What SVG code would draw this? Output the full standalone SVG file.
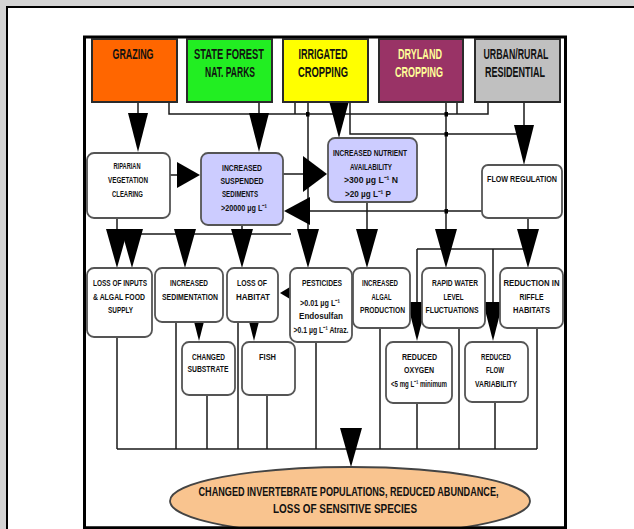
<svg xmlns="http://www.w3.org/2000/svg" width="634" height="529" viewBox="0 0 634 529">
<style>
.t{font-family:"Liberation Sans Narrow","Liberation Sans",Arial,sans-serif;font-weight:bold;fill:#111;text-anchor:middle}
.lu{font-size:14.5px}
.bx{font-size:9.5px}
.el{font-size:13px}
.top{stroke:#2a2a2a;stroke-width:2}
.box{fill:#fff;stroke:#555;stroke-width:1.8}
.lav{fill:#ccccff;stroke:#555;stroke-width:1.8}
.ln{fill:none;stroke:#1a1a1a;stroke-width:1.5}
.ah{fill:#000;stroke:none}
</style>
<rect x="0" y="0" width="634" height="529" fill="#d4d4d4"/>
<rect x="8" y="8" width="630" height="525" fill="#fff"/>
<path d="M7,529 V7 H634" fill="none" stroke="#000" stroke-width="2"/>
<rect x="84.5" y="37" width="481" height="491" fill="#fff" stroke="#000" stroke-width="3"/>

<g id="connectors">
  <path class="ln" d="M138,102 V113 M259,102 V113 M169,102 V114 H488 V102 M295,102 V114 M457,102 V114 M308,102 V229 M350,102 V134 H524 M524,102 V125 M446,102 V229"/>
  <path class="ln" d="M170,175 H178 M283,174 H304 M482,211 H309"/>
  <path class="ln" d="M117,218 V230 M242,225 V230 M132,234 H291 M367,202 V230 M528,218 V230 M417,249 H528 M417,249 V302 M493,249 V302"/>
  <path class="ln" d="M117,337 V449 M176,322 V449 M207,395 V449 M238,322 V449 M267,395 V449 M316,342 V449 M380,328 V449 M417,403 V449 M459,328 V449 M495,402 V449 M537,328 V449 M117,449 H537"/>
  <rect x="306" y="112" width="3.5" height="4.5" fill="#000"/>
  <rect x="444.5" y="112" width="3.5" height="4.5" fill="#000"/>
  <rect x="444.5" y="132" width="3.5" height="4.5" fill="#000"/>
  <rect x="444.5" y="209" width="3.5" height="4.5" fill="#000"/>
  <path class="ah" d="M128,113 L148,113 L138,152 Z"/>
  <path class="ah" d="M249,113 L269,113 L259,152 Z"/>
  <path class="ah" d="M329,101 L349,101 L339,138 Z"/>
  <path class="ah" d="M514,125 L534,125 L524,165 Z"/>
  <path class="ah" d="M177,162 L177,188 L200,175 Z"/>
  <path class="ah" d="M303,156 L303,192 L327,174 Z"/>
  <path class="ah" d="M310,197 L310,225 L284,211 Z"/>
  <path class="ah" d="M106,229 L128,229 L117,268 Z"/>
  <path class="ah" d="M121,229 L143,229 L132,268 Z"/>
  <path class="ah" d="M174,229 L196,229 L185,268 Z"/>
  <path class="ah" d="M231,229 L253,229 L242,268 Z"/>
  <path class="ah" d="M297,229 L319,229 L308,268 Z"/>
  <path class="ah" d="M356,229 L378,229 L367,268 Z"/>
  <path class="ah" d="M435,229 L457,229 L446,268 Z"/>
  <path class="ah" d="M517,229 L539,229 L528,268 Z"/>
  <path class="ah" d="M290,287 L290,299 L280,293 Z"/>
  <path class="ah" d="M189,302 L209,302 L199,341 Z"/>
  <path class="ah" d="M244,302 L264,302 L254,341 Z"/>
  <path class="ah" d="M407,302 L427,302 L417,341 Z"/>
  <path class="ah" d="M483,302 L503,302 L493,341 Z"/>
  <path class="ah" d="M340,428 L362,428 L351,467 Z"/>
</g>

<g id="grazing">
  <rect class="top" x="92" y="39" width="85" height="63" fill="#ff6600"/>
  <text class="t lu" x="133" y="59" textLength="41" lengthAdjust="spacingAndGlyphs">GRAZING</text>
</g>
<g id="state-forest">
  <rect class="top" x="187" y="39" width="85" height="63" fill="#22ee22"/>
  <text class="t lu" x="229" y="59" textLength="70" lengthAdjust="spacingAndGlyphs">STATE FOREST</text>
  <text class="t lu" x="230" y="77" textLength="50" lengthAdjust="spacingAndGlyphs">NAT. PARKS</text>
</g>
<g id="irrigated">
  <rect class="top" x="283" y="39" width="85" height="63" fill="#ffff00"/>
  <text class="t lu" x="323" y="59" textLength="49" lengthAdjust="spacingAndGlyphs">IRRIGATED</text>
  <text class="t lu" x="323" y="77" textLength="50" lengthAdjust="spacingAndGlyphs">CROPPING</text>
</g>
<g id="dryland">
  <rect class="top" x="379" y="39" width="84" height="63" fill="#993366"/>
  <text class="t lu" x="420" y="59" textLength="44" lengthAdjust="spacingAndGlyphs" style="fill:#ffff99">DRYLAND</text>
  <text class="t lu" x="419" y="77" textLength="48" lengthAdjust="spacingAndGlyphs" style="fill:#ffff99">CROPPING</text>
</g>
<g id="urban">
  <rect class="top" x="475" y="39" width="85" height="63" fill="#c0c0c0"/>
  <text class="t lu" x="516" y="59" textLength="65" lengthAdjust="spacingAndGlyphs">URBAN/RURAL</text>
  <text class="t lu" x="515" y="77" textLength="60" lengthAdjust="spacingAndGlyphs">RESIDENTIAL</text>
</g>

<g id="riparian">
  <rect class="box" x="87" y="153" width="83" height="65" rx="7"/>
  <text class="t bx" x="127" y="169" textLength="27" lengthAdjust="spacingAndGlyphs">RIPARIAN</text>
  <text class="t bx" x="128" y="183" textLength="40" lengthAdjust="spacingAndGlyphs">VEGETATION</text>
  <text class="t bx" x="127.5" y="197" textLength="31" lengthAdjust="spacingAndGlyphs">CLEARING</text>
</g>
<g id="suspended">
  <rect class="lav" x="201" y="153" width="82" height="72" rx="7"/>
  <text class="t bx" x="242" y="171" textLength="40" lengthAdjust="spacingAndGlyphs">INCREASED</text>
  <text class="t bx" x="242" y="184" textLength="43" lengthAdjust="spacingAndGlyphs">SUSPENDED</text>
  <text class="t bx" x="240" y="197" textLength="36" lengthAdjust="spacingAndGlyphs">SEDIMENTS</text>
  <text class="t bx" x="244" y="211" textLength="46" lengthAdjust="spacingAndGlyphs">&gt;20000 µg L⁻¹</text>
</g>
<g id="nutrients">
  <rect class="lav" x="328" y="138" width="89" height="64" rx="7"/>
  <text class="t bx" x="370" y="156" textLength="74" lengthAdjust="spacingAndGlyphs">INCREASED NUTRIENT</text>
  <text class="t bx" x="371" y="170" textLength="42" lengthAdjust="spacingAndGlyphs">AVAILABILITY</text>
  <text class="t bx" x="371" y="183" textLength="54" lengthAdjust="spacingAndGlyphs">&gt;300 µg L⁻¹ N</text>
  <text class="t bx" x="368" y="197" textLength="46" lengthAdjust="spacingAndGlyphs">&gt;20 µg L⁻¹ P</text>
</g>
<g id="flow-regulation">
  <rect class="box" x="482" y="165" width="80" height="53" rx="6"/>
  <text class="t bx" x="522" y="182" textLength="70" lengthAdjust="spacingAndGlyphs">FLOW REGULATION</text>
</g>

<g id="loss-food">
  <rect class="box" x="87" y="268" width="65" height="69" rx="7"/>
  <text class="t bx" x="120" y="286" textLength="54" lengthAdjust="spacingAndGlyphs">LOSS OF INPUTS</text>
  <text class="t bx" x="119" y="300" textLength="52" lengthAdjust="spacingAndGlyphs">&amp; ALGAL FOOD</text>
  <text class="t bx" x="120.5" y="313" textLength="25" lengthAdjust="spacingAndGlyphs">SUPPLY</text>
</g>
<g id="sedimentation">
  <rect class="box" x="155" y="268" width="68" height="54" rx="7"/>
  <text class="t bx" x="189" y="286" textLength="38" lengthAdjust="spacingAndGlyphs">INCREASED</text>
  <text class="t bx" x="190" y="300" textLength="56" lengthAdjust="spacingAndGlyphs">SEDIMENTATION</text>
</g>
<g id="habitat">
  <rect class="box" x="227" y="268" width="51" height="54" rx="7"/>
  <text class="t bx" x="252" y="286" textLength="30" lengthAdjust="spacingAndGlyphs">LOSS OF</text>
  <text class="t bx" x="253" y="300" textLength="34" lengthAdjust="spacingAndGlyphs">HABITAT</text>
</g>
<g id="pesticides">
  <rect class="box" x="290" y="268" width="62" height="74" rx="7"/>
  <text class="t bx" x="322" y="286" textLength="40" lengthAdjust="spacingAndGlyphs">PESTICIDES</text>
  <text class="t bx" x="320" y="306" textLength="40" lengthAdjust="spacingAndGlyphs">&gt;0.01 µg L⁻¹</text>
  <text class="t bx" x="321" y="319" textLength="44" lengthAdjust="spacingAndGlyphs">Endosulfan</text>
  <text class="t bx" x="321" y="333" textLength="55" lengthAdjust="spacingAndGlyphs">&gt;0.1 µg L⁻¹ Atraz.</text>
</g>
<g id="algal">
  <rect class="box" x="353" y="268" width="57" height="60" rx="7"/>
  <text class="t bx" x="380" y="286" textLength="36" lengthAdjust="spacingAndGlyphs">INCREASED</text>
  <text class="t bx" x="381.5" y="300" textLength="20" lengthAdjust="spacingAndGlyphs">ALGAL</text>
  <text class="t bx" x="382.5" y="313" textLength="45" lengthAdjust="spacingAndGlyphs">PRODUCTION</text>
</g>
<g id="water-level">
  <rect class="box" x="422" y="268" width="63" height="60" rx="7"/>
  <text class="t bx" x="455" y="286" textLength="46" lengthAdjust="spacingAndGlyphs">RAPID WATER</text>
  <text class="t bx" x="453.5" y="300" textLength="20" lengthAdjust="spacingAndGlyphs">LEVEL</text>
  <text class="t bx" x="452" y="313" textLength="53" lengthAdjust="spacingAndGlyphs">FLUCTUATIONS</text>
</g>
<g id="riffle">
  <rect class="box" x="500" y="268" width="63" height="60" rx="7"/>
  <text class="t bx" x="531.5" y="286" textLength="56" lengthAdjust="spacingAndGlyphs">REDUCTION IN</text>
  <text class="t bx" x="531.5" y="300" textLength="24" lengthAdjust="spacingAndGlyphs">RIFFLE</text>
  <text class="t bx" x="531.5" y="313" textLength="37" lengthAdjust="spacingAndGlyphs">HABITATS</text>
</g>

<g id="substrate">
  <rect class="box" x="182" y="342" width="53" height="53" rx="7"/>
  <text class="t bx" x="208.5" y="360" textLength="33" lengthAdjust="spacingAndGlyphs">CHANGED</text>
  <text class="t bx" x="208" y="372" textLength="41" lengthAdjust="spacingAndGlyphs">SUBSTRATE</text>
</g>
<g id="fish">
  <rect class="box" x="242" y="342" width="53" height="53" rx="7"/>
  <text class="t bx" x="267.5" y="360" textLength="17" lengthAdjust="spacingAndGlyphs">FISH</text>
</g>
<g id="oxygen">
  <rect class="box" x="386" y="342" width="66" height="61" rx="7"/>
  <text class="t bx" x="419.5" y="360" textLength="35" lengthAdjust="spacingAndGlyphs">REDUCED</text>
  <text class="t bx" x="419" y="373" textLength="30" lengthAdjust="spacingAndGlyphs">OXYGEN</text>
  <text class="t bx" x="419" y="387" textLength="56" lengthAdjust="spacingAndGlyphs">&lt;5 mg L⁻¹ minimum</text>
</g>
<g id="flow-variability">
  <rect class="box" x="465" y="342" width="63" height="60" rx="7"/>
  <text class="t bx" x="496" y="360" textLength="30" lengthAdjust="spacingAndGlyphs">REDUCED</text>
  <text class="t bx" x="495" y="373" textLength="18" lengthAdjust="spacingAndGlyphs">FLOW</text>
  <text class="t bx" x="496" y="387" textLength="42" lengthAdjust="spacingAndGlyphs">VARIABILITY</text>
</g>

<g id="outcome">
  <ellipse cx="350" cy="501" rx="180" ry="34" fill="#f9c48f" stroke="#444" stroke-width="1.8"/>
  <text class="t el" x="348.5" y="496" textLength="300" lengthAdjust="spacingAndGlyphs">CHANGED INVERTEBRATE POPULATIONS, REDUCED ABUNDANCE,</text>
  <text class="t el" x="345" y="513" textLength="144" lengthAdjust="spacingAndGlyphs">LOSS OF SENSITIVE SPECIES</text>
</g>
<path d="M84.5,528 H565.5" stroke="#000" stroke-width="3"/>
</svg>
